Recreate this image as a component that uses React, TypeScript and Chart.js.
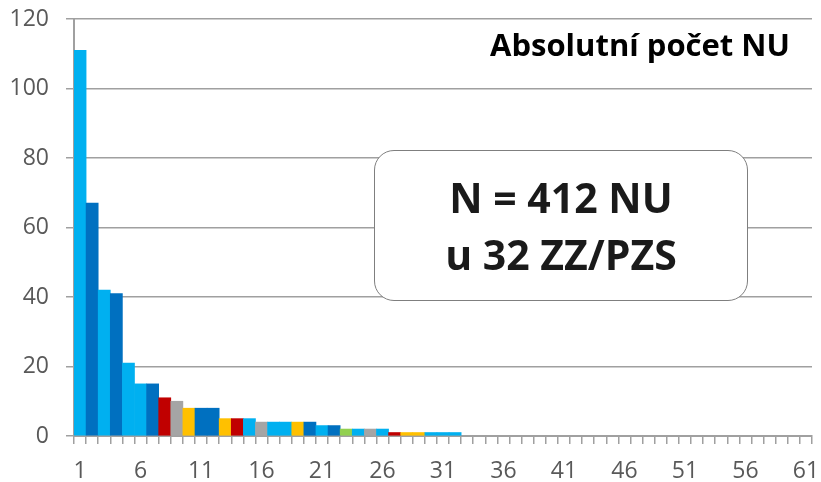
import React, { useEffect, useRef } from "react";
import { Chart, registerables } from "chart.js";

Chart.register(...registerables);

const categories: string[] = [
  "1", "2", "3", "4", "5", "6", "7", "8", "9", "10",
  "11", "12", "13", "14", "15", "16", "17", "18", "19", "20",
  "21", "22", "23", "24", "25", "26", "27", "28", "29", "30",
  "31", "32", "33", "34", "35", "36", "37", "38", "39", "40",
  "41", "42", "43", "44", "45", "46", "47", "48", "49", "50",
  "51", "52", "53", "54", "55", "56", "57", "58", "59", "60", "61",
];

const values: number[] = [
  111, 67, 42, 41, 21, 15, 15, 11, 10, 8,
  8, 8, 5, 5, 5, 4, 4, 4, 4, 4,
  3, 3, 2, 2, 2, 2, 1, 1, 1, 1,
  1, 1,
];

const LB = "#00B0F0";
const DB = "#0070C0";
const RD = "#C00000";
const GR = "#A5A5A5";
const YE = "#FFC000";
const GN = "#92D050";

const barColors: string[] = [
  LB, DB, LB, DB, LB, LB, DB, RD, GR, YE,
  DB, DB, YE, RD, LB, GR, LB, LB, YE, DB,
  LB, DB, GN, LB, GR, LB, RD, YE, YE, LB,
  LB, LB,
];

const shownXTicks: string[] = ["1", "6", "11", "16", "21", "26", "31", "36", "41", "46", "51", "56", "61"];
const yTicks = { min: 0, max: 120, step: 20 };

const titleText = "Absolutní počet NU";
const boxLine1 = "N = 412 NU";
const boxLine2 = "u 32 ZZ/PZS";

const LINE = "#a0a0a0";
const FONT = "'Open Sans', 'Liberation Sans', sans-serif";

export default function App() {
  const ref = useRef<HTMLCanvasElement | null>(null);

  useEffect(() => {
    if (!ref.current) return;
    const chart = new Chart(ref.current, {
      type: "bar",
      data: {
        labels: categories,
        datasets: [
          {
            data: values,
            backgroundColor: barColors,
            borderWidth: 0,
            barPercentage: 1,
            categoryPercentage: 1,
          },
        ],
      },
      options: {
        animation: false,
        responsive: false,
        devicePixelRatio: 1,
        layout: { padding: { left: 0, right: 9, top: 19, bottom: 0 } },
        plugins: {
          legend: { display: false },
          tooltip: { enabled: false },
          title: { display: false },
        },
        scales: {
          x: {
            offset: true,
            grid: {
              display: true,
              drawOnChartArea: false,
              drawTicks: true,
              tickLength: 8,
              color: LINE,
              lineWidth: 1.5,
              offset: true,
            },
            border: { display: true, color: LINE, width: 2 },
            ticks: {
              autoSkip: false,
              maxRotation: 0,
              minRotation: 0,
              padding: 16,
              color: "#595959",
              font: { family: FONT, size: 23, lineHeight: 1 },
              callback: (_v: any, i: number) =>
                shownXTicks.includes(categories[i]) ? categories[i] : "",
            },
            afterFit: (s: any) => {
              s.height = 46;
              s.paddingLeft = 0;
              s.paddingRight = 0;
            },
          },
          y: {
            min: yTicks.min,
            max: yTicks.max,
            grid: {
              color: LINE,
              lineWidth: 1.5,
              drawTicks: true,
              tickLength: 8,
            },
            border: { display: true, color: LINE, width: 2 },
            ticks: {
              stepSize: yTicks.step,
              padding: 17,
              color: "#595959",
              font: { family: FONT, size: 23, lineHeight: 1 },
            },
            afterFit: (s: any) => {
              s.width = 74;
              s.paddingTop = 0;
              s.paddingBottom = 0;
            },
          },
        },
      },
    });
    return () => chart.destroy();
  }, []);

  return (
    <div style={{ position: "fixed", left: 0, top: 0, width: 821, height: 482, background: "#fff" }}>
      <canvas ref={ref} width={821} height={482} style={{ display: "block", width: 821, height: 482 }} />
      <div
        style={{
          position: "absolute",
          left: 490,
          top: 29,
          fontFamily: FONT,
          fontWeight: 700,
          fontSize: 31,
          lineHeight: 1,
          color: "#000",
          whiteSpace: "nowrap",
        }}
      >
        {titleText}
      </div>
      <div
        style={{
          position: "absolute",
          left: 374,
          top: 150,
          width: 374,
          height: 151,
          boxSizing: "border-box",
          border: "1.5px solid #7f7f7f",
          borderRadius: 20,
          background: "#fff",
        }}
      />
      <div
        style={{
          position: "absolute",
          left: 374,
          top: 169,
          width: 374,
          textAlign: "center",
          fontFamily: FONT,
          fontWeight: 700,
          fontSize: 41,
          lineHeight: "56.6px",
          color: "#1a1a1a",
          whiteSpace: "nowrap",
        }}
      >
        <div>{boxLine1}</div>
        <div>{boxLine2}</div>
      </div>
    </div>
  );
}
